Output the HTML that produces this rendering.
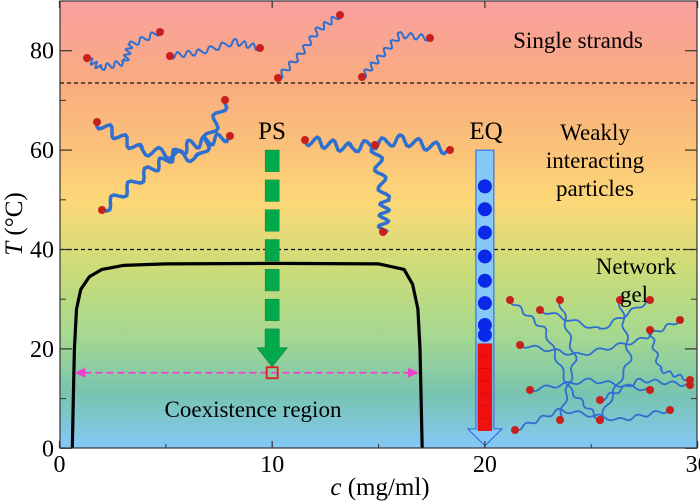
<!DOCTYPE html>
<html><head><meta charset="utf-8"><style>
body{margin:0;background:#fff;}
svg{display:block;font-family:"Liberation Serif",serif;}
</style></head><body>
<svg id="chart" width="700" height="502" viewBox="0 0 700 502">
<defs>
<linearGradient id="bg" x1="0" y1="0" x2="0" y2="1">
<stop offset="0" stop-color="#f9a0a0"/>
<stop offset="0.18" stop-color="#f9ab80"/>
<stop offset="0.35" stop-color="#fbc578"/>
<stop offset="0.45" stop-color="#fcd878"/>
<stop offset="0.6" stop-color="#cbdc78"/>
<stop offset="0.75" stop-color="#a5d890"/>
<stop offset="0.88" stop-color="#78c4b0"/>
<stop offset="1" stop-color="#84c8f8"/>
</linearGradient>
</defs>
<rect x="60" y="1" width="637" height="447" fill="url(#bg)"/>
<g id="deco"></g>
<g id="marks"></g>
<rect x="60" y="1" width="637" height="447" fill="none" stroke="#333" stroke-width="1.2"/>
<g id="axes"></g>
<text x="578" y="48" font-size="23" text-anchor="middle">Single strands</text>
<text x="595" y="140" font-size="23" text-anchor="middle">Weakly</text>
<text x="595" y="168" font-size="23" text-anchor="middle">interacting</text>
<text x="595" y="196" font-size="23" text-anchor="middle">particles</text>
<text x="636" y="274" font-size="23" text-anchor="middle">Network</text>
<text x="634" y="302" font-size="23" text-anchor="middle">gel</text>
<text x="253" y="417" font-size="23" text-anchor="middle">Coexistence region</text>
<text x="272" y="139" font-size="25" text-anchor="middle">PS</text>
<text x="486" y="139" font-size="25" text-anchor="middle">EQ</text>
<text x="380" y="495" font-size="25" text-anchor="middle"><tspan font-style="italic">c</tspan> (mg/ml)</text>
<text transform="translate(22,224) rotate(-90)" font-size="25" text-anchor="middle"><tspan font-style="italic">T</tspan> (°C)</text>
</svg>
<script>
const xTicks=[0,10,20,30];
const xTickLabels=["0","10","20","30"];
const yTicks=[0,20,40,60,80];
const yTickLabels=["0","20","40","60","80"];
const dashedLevels=[73.5,40];
const curveC=[0.6,0.65,0.7,0.8,1.0,1.4,2.0,3.0,5,10,15,16.2,16.6,16.85,16.95,17.0,17.05];
const curveT=[0,10,20,28,32,34.5,36,36.8,37.1,37.2,37.1,36,33,28,20,10,0];
const eqDotT=[52.7,48.1,43.4,38.6,33.7,29.2,24.8,22.8];
const eqSquareT=[19.8,17.3,14.8,12.3,9.8,7.3,4.8];
const psDashT=[60,54,48,42,36,30];
const psC=10, eqC=20, psEndT=15.2, psHeadT=24;
const tieLeft=0.7, tieRight=16.9, tieT=15.2;
const eqStartT=60, eqEndT=0.5;

const X=c=>59.5+c*21.27, Y=t=>448.3-t*4.97;
const NS="http://www.w3.org/2000/svg";
function mk(tag,attrs,parent){const e=document.createElementNS(NS,tag);for(const k in attrs)e.setAttribute(k,attrs[k]);parent.appendChild(e);return e;}
const axesG=document.getElementById('axes'), marksG=document.getElementById('marks'), decoG=document.getElementById('deco');

xTicks.forEach((v,i)=>{
 const t=mk('line',{x1:X(v),x2:X(v),y1:448,y2:441,stroke:'#333','stroke-width':1.2},axesG);
 
 const t2=mk('line',{x1:X(v),x2:X(v),y1:1,y2:8,stroke:'#333','stroke-width':1.2},axesG);
 
 const l=mk('text',{x:X(v),y:472,'font-size':24,'text-anchor':'middle'},axesG);l.textContent=xTickLabels[i];
 
});
[5,15,25].forEach(v=>{
 const t=mk('line',{x1:X(v),x2:X(v),y1:448,y2:444,stroke:'#333','stroke-width':1},axesG);
 
});
yTicks.forEach((v,i)=>{
 const t=mk('line',{x1:60,x2:72,y1:Y(v),y2:Y(v),stroke:'#333','stroke-width':1.2},axesG);
 
 const t2=mk('line',{x1:697,x2:685,y1:Y(v),y2:Y(v),stroke:'#333','stroke-width':1.2},axesG);
 
 const l=mk('text',{x:54,y:Y(v)+8,'font-size':24,'text-anchor':'end'},axesG);l.textContent=yTickLabels[i];
 
});
[10,30,50,70].forEach(v=>{
 const t=mk('line',{x1:60,x2:66,y1:Y(v),y2:Y(v),stroke:'#333','stroke-width':1},axesG);
 
 const t2=mk('line',{x1:697,x2:691,y1:Y(v),y2:Y(v),stroke:'#333','stroke-width':1},axesG);
 
});

function dna(pts,w,amp){
 let d='';const n=pts.length;
 for(let i=0;i<n-1;i++){const[a,b]=pts[i],[c,e]=pts[i+1];const steps=20;
  const dx=c-a,dy=e-b,L=Math.hypot(dx,dy),nx=-dy/L,ny=dx/L;
  for(let s=0;s<=steps;s++){const f=s/steps,ph=Math.sin((i*steps+s)*0.9)*amp;
   d+=(d?'L':'M')+(a+dx*f+nx*ph).toFixed(1)+','+(b+dy*f+ny*ph).toFixed(1);}}
 const p=mk('path',{d:d,fill:'none',stroke:'#2f6fd0','stroke-width':w,'stroke-linejoin':'round'},decoG);
 
 [pts[0],pts[n-1]].forEach(q=>{const r=mk('circle',{cx:q[0],cy:q[1],r:4,fill:'#c8201c'},decoG);
  });
}
dna([[87,58],[100,68],[125,62],[130,45],[160,32]],2,3);
dna([[170,56],[200,52],[235,42],[260,48]],2,3);
dna([[278,78],[300,55],[318,30],[340,15]],2,3);
dna([[362,77],[380,57],[400,35],[430,38]],2,3);
dna([[97,122],[140,150],[200,158],[225,100]],3.5,5);
dna([[102,210],[150,170],[190,145],[230,136]],3.5,5);
dna([[305,140],[350,148],[400,140],[450,150]],3.5,5);
dna([[375,145],[385,200],[383,232]],3.5,5);
const net=[[[510,300],[545,330],[570,390],[600,420]],[[520,345],[580,355],[640,340],[680,320]],[[515,430],[560,410],[620,420],[670,410]],[[560,300],[575,360],[560,420]],[[620,300],[630,360],[600,420]],[[650,330],[660,370],[690,380]],[[530,390],[590,380],[650,390]],[[540,310],[600,330],[650,300]],[[600,400],[640,380],[690,385]]];
net.forEach(p=>dna(p,1.8,2));

dashedLevels.forEach(v=>{
 const l=mk('line',{x1:60,x2:697,y1:Y(v),y2:Y(v),stroke:'#111','stroke-width':1.2,'stroke-dasharray':'4,3'},marksG);
 
});

const cp=mk('path',{d:curveC.map((c,i)=>(i?'L':'M')+X(c).toFixed(1)+','+Y(curveT[i]).toFixed(1)).join(''),fill:'none',stroke:'#000','stroke-width':3.2,'stroke-linejoin':'round'},marksG);


const tl=mk('line',{x1:X(tieLeft)+10,x2:X(tieRight)-10,y1:Y(tieT),y2:Y(tieT),stroke:'#f040d0','stroke-width':1.8,'stroke-dasharray':'7,4'},marksG);

const ah1=mk('path',{d:`M${X(tieLeft)},${Y(tieT)} l11,-5 v10 z`,fill:'#f040d0'},marksG);

const ah2=mk('path',{d:`M${X(tieRight)},${Y(tieT)} l-11,-5 v10 z`,fill:'#f040d0'},marksG);


psDashT.forEach(t=>{
 const r=mk('rect',{x:X(psC)-7,y:Y(t),width:14,height:21.5,fill:'#00aa4c',stroke:'#1a8a40','stroke-width':0.6},marksG);
 
});
const psHeadTop=Y(psHeadT);
const psTip=Y(psEndT)-6;
const psHeadBase=psTip-19;
const pa=mk('path',{d:`M${X(psC)-7},${psHeadTop} h14 V${psHeadBase} h8 L${X(psC)},${psTip} L${X(psC)-15},${psHeadBase} h8 z`,fill:'#00aa4c',stroke:'#1a8a40','stroke-width':0.8},marksG);

const ps=mk('rect',{x:X(psC)-5.5,y:Y(psEndT)-5.5,width:11,height:11,fill:'none',stroke:'#e02020','stroke-width':1.8},marksG);


const ex=X(eqC), eqTop=Y(eqStartT), bodyEnd=Y(eqEndT)-17, eqTip=Y(eqEndT);
const ea=mk('path',{d:`M${ex-9},${eqTop} h18 V${bodyEnd} h8 L${ex},${eqTip} L${ex-17},${bodyEnd} h8 z`,fill:'#86c8f8',stroke:'#2860e0','stroke-width':1},marksG);

eqDotT.forEach(t=>{
 const c=mk('circle',{cx:ex,cy:Y(t),r:7,fill:'#0a28e8'},marksG);
 
});
eqSquareT.forEach(t=>{
 const r=mk('rect',{x:ex-7,y:Y(t)-6.2,width:14,height:12.4,fill:'#f01010',stroke:'#c00','stroke-width':0.4},marksG);
 
});
</script>
</body></html>
